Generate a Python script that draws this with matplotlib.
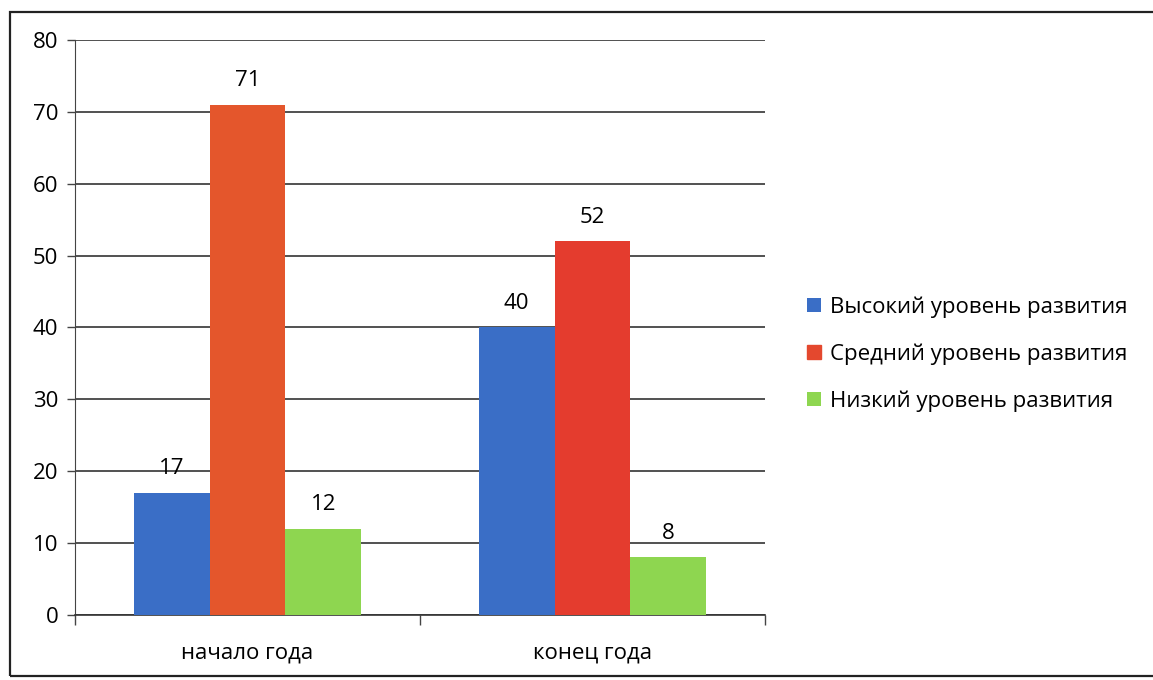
import numpy as np
import matplotlib.pyplot as plt
from matplotlib.patches import Rectangle

plt.rcParams['font.family'] = ['Open Sans', 'DejaVu Sans']

# Данные
categories = ["начало года", "конец года"]
series_names = ["Высокий уровень развития", "Средний уровень развития", "Низкий уровень развития"]
high = [17, 40]
medium = [71, 52]
low = [12, 8]

colors = ["#3a6ec6", "#e4482e", "#8ed650"]
medium_colors = ["#e4562c", "#e43c2e"]

fig = plt.figure(figsize=(11.53, 6.8), dpi=100)
ax = fig.add_axes([0.065, 0.0956, 0.5985, 0.8456])

# Рамка вокруг диаграммы
fig.patches.append(Rectangle((0.009, 0.006), 1.2, 0.976, transform=fig.transFigure,
                             fill=False, edgecolor="#222222", linewidth=1.6))

x = np.arange(len(categories))
w = 0.22
vals = [high, medium, low]
for i, (name, v) in enumerate(zip(series_names, vals)):
    c = medium_colors if i == 1 else colors[i]
    bars = ax.bar(x + (i - 1) * w, v, w, color=c, label=name, zorder=3)
    for b, val in zip(bars, v):
        ax.text(b.get_x() + b.get_width() / 2, val + 1.9, str(val), ha="center", va="bottom",
                fontsize=16, zorder=4)

ax.set_ylim(0, 80)
ax.set_xlim(-0.5, 1.5)
ax.set_yticks(range(0, 81, 10))
ax.yaxis.grid(True, color="#333333", linewidth=1.2, zorder=0)
ax.tick_params(axis="y", labelsize=16, length=6, width=1, color="#444444", pad=6)

ax.set_xticks(x)
ax.set_xticklabels(categories, fontsize=16)
ax.tick_params(axis="x", length=0, pad=20)
ax.set_xticks([-0.5, 0.5, 1.5], minor=True)
ax.tick_params(axis="x", which="minor", length=7, width=1, color="#444444")

for s in ["top", "right"]:
    ax.spines[s].set_visible(False)
ax.spines["left"].set_color("#444444")
ax.spines["bottom"].set_color("#333333")
ax.spines["bottom"].set_linewidth(1.2)

leg = fig.legend(loc="center left", bbox_to_anchor=(0.683, 0.479), frameon=False, fontsize=16,
                 handlelength=0.6, handleheight=0.6, handletextpad=0.4, labelspacing=1.15)
leg.legend_handles[1].set_color(colors[1])

fig.savefig("out.png", dpi=100)
